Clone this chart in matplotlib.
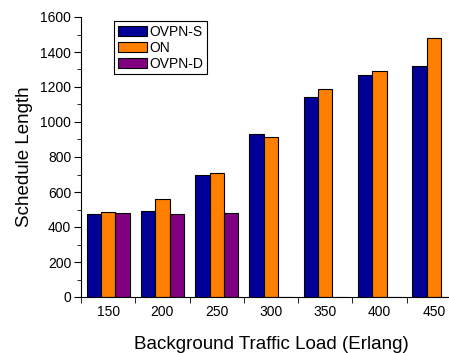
import numpy as np
import matplotlib.pyplot as plt
from matplotlib.ticker import MultipleLocator

plt.rcParams['font.family'] = ['Liberation Sans', 'DejaVu Sans']

# data
loads = ['150', '200', '250', '300', '350', '400', '450']
ovpn_s = [472, 490, 700, 933, 1141, 1267, 1322]
on = [488, 562, 710, 912, 1187, 1290, 1482]
ovpn_d = [480, 472, 480, 0, 0, 0, 0]

colors = ['#000099', '#FF8000', '#800080']
names = ['OVPN-S', 'ON', 'OVPN-D']

fig = plt.figure(figsize=(4.49, 3.53), dpi=100)
ax = fig.add_axes([81/449, 56/353, 380/449, 280/353])

x = np.arange(len(loads))
w = 0.265
for i, (vals, c, n) in enumerate(zip([ovpn_s, on, ovpn_d], colors, names)):
    ax.bar(x + (i - 1) * w, vals, width=w, color=c, edgecolor='black',
           linewidth=0.8, label=n)

ax.set_xlim(-0.5, len(loads) - 0.5)
ax.set_ylim(0, 1600)
ax.spines['top'].set_visible(False)
ax.spines['right'].set_visible(False)

# labels at group centres, tick marks at group boundaries
ax.set_xticks(x)
ax.set_xticklabels(loads, fontsize=10)
ax.tick_params(axis='x', which='major', length=0, pad=6)
ax.set_xticks(np.arange(-0.5, len(loads), 1), minor=True)
ax.tick_params(axis='x', which='minor', length=4, direction='out')

ax.yaxis.set_major_locator(MultipleLocator(200))
ax.yaxis.set_minor_locator(MultipleLocator(100))
ax.tick_params(axis='y', which='major', length=5, labelsize=10, pad=2)
ax.tick_params(axis='y', which='minor', length=3)

ax.set_xlabel('Background Traffic Load (Erlang)', fontsize=13.5, labelpad=12)
ax.set_ylabel('Schedule Length', fontsize=13.5, labelpad=5)

leg = ax.legend(loc='upper left', bbox_to_anchor=(0.087, 0.985), fontsize=10,
                fancybox=False, edgecolor='black', framealpha=1,
                handlelength=2.1, handleheight=0.75, labelspacing=0.15,
                borderpad=0.25, handletextpad=0.2, borderaxespad=0)
leg.get_frame().set_linewidth(0.8)

plt.savefig('out.png', dpi=100)
